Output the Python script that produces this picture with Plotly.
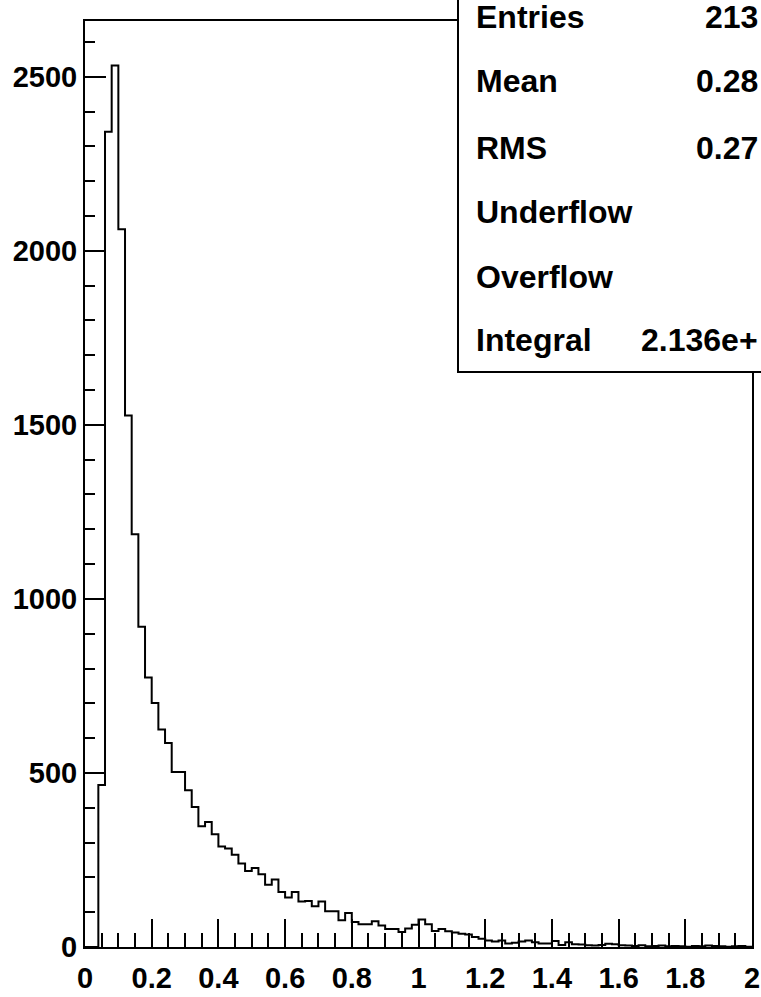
import plotly.graph_objects as go

# ---- data -------------------------------------------------------------
bin_low = 0.0
bin_width = 0.02
counts = [
    0, 0, 465, 2342, 2532, 2062, 1527, 1186, 920, 774,
    701, 625, 586, 503, 503, 450, 402, 347, 359, 324,
    289, 283, 265, 240, 218, 227, 209, 179, 194, 158,
    142, 158, 131, 132, 117, 131, 103, 103, 77, 98,
    72, 65, 65, 74, 62, 52, 52, 43, 53, 64,
    79, 65, 46, 52, 45, 42, 38, 36, 29, 24,
    19, 16, 19, 10, 12, 16, 19, 14, 10, 10,
    17, 6, 14, 8, 7, 5, 4, 6, 9, 8,
    5, 4, 3, 5, 2, 3, 4, 2, 3, 2,
    1, 3, 2, 4, 3, 2, 1, 2, 3, 1,
]
stat_labels = ["Entries", "Mean", "RMS", "Underflow", "Overflow", "Integral"]
stat_values = ["213", "0.28", "0.27", "", "", "2.136e+"]
x_ticks = [0, 0.2, 0.4, 0.6, 0.8, 1, 1.2, 1.4, 1.6, 1.8, 2]
y_ticks = [0, 500, 1000, 1500, 2000, 2500]

edges = [round(bin_low + i * bin_width, 4) for i in range(len(counts) + 1)]
step_y = counts + [counts[-1]]

# ---- geometry (pixels) ------------------------------------------------
W, H = 761, 997
L, R, T, B = 85, 9, 21, 50
pw, ph = W - L - R, H - T - B


def px_x(x):
    return (x - L) / pw


def px_y(y):
    return (H - B - y) / ph


FONT = "Liberation Sans, Arial, Helvetica, sans-serif"

fig = go.Figure()
fig.add_trace(go.Scatter(
    x=edges, y=step_y, mode="lines", line_shape="hv",
    line=dict(color="black", width=2), showlegend=False, hoverinfo="skip",
))

axis_common = dict(
    showgrid=False, zeroline=False, showline=True, mirror=True, automargin=False,
    linecolor="black", linewidth=2, ticks="inside", tickcolor="black",
    tickwidth=2, tickfont=dict(family=FONT, size=29, color="black", weight="bold"),
)

fig.update_xaxes(
    range=[0, 2], tickvals=x_ticks, ticktext=[f"{v:g}" for v in x_ticks],
    ticklen=28, ticklabelstandoff=4,
    minor=dict(ticks="inside", dtick=0.05, ticklen=14, tickcolor="black", tickwidth=2),
    **axis_common,
)
fig.update_yaxes(
    range=[0, 2660], tickvals=y_ticks, ticktext=[str(v) for v in y_ticks],
    ticklen=21,
    minor=dict(ticks="inside", dtick=100, ticklen=10, tickcolor="black", tickwidth=2),
    **axis_common,
)

# stats box
fig.add_shape(type="rect", xref="paper", yref="paper",
              x0=px_x(458), x1=px_x(W + 20), y0=px_y(372), y1=px_y(-20),
              fillcolor="white", line=dict(color="black", width=2), layer="above")

label_y = [17, 81, 148, 212, 277, 340]
for lab, val, yy in zip(stat_labels, stat_values, label_y):
    fig.add_annotation(xref="paper", yref="paper", x=px_x(474), y=px_y(yy),
                       xanchor="left", yanchor="middle", showarrow=False, text=lab,
                       font=dict(family=FONT, size=32, color="black", weight="bold"))
    if val:
        fig.add_annotation(xref="paper", yref="paper", x=px_x(W - 1), y=px_y(yy),
                           xanchor="right", yanchor="middle", showarrow=False, text=val,
                           font=dict(family=FONT, size=32, color="black", weight="bold"))

fig.update_layout(
    width=W, height=H, margin=dict(l=L, r=R, t=T, b=B),
    paper_bgcolor="white", plot_bgcolor="white",
)

fig.write_html("out.html")
